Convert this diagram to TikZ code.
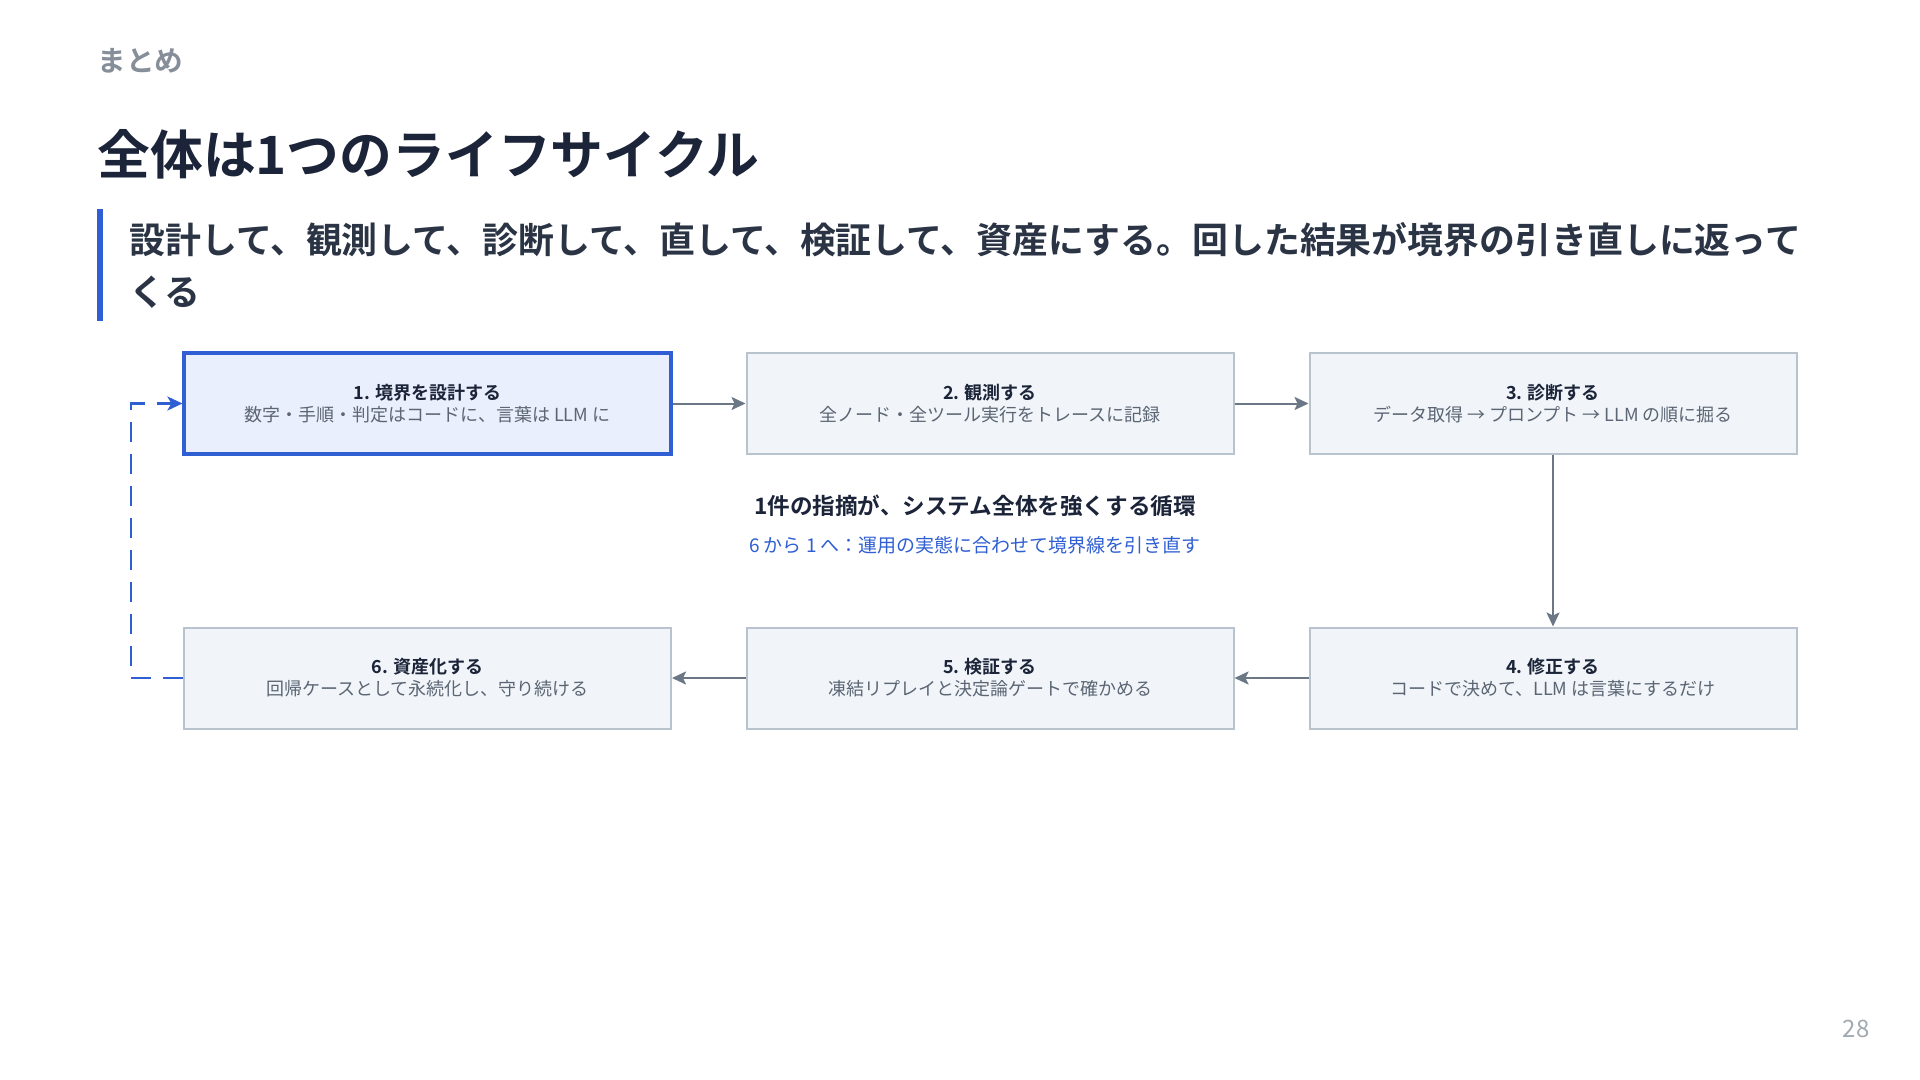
\documentclass[tikz,border=0pt]{standalone}
\usepackage{fontspec}
\setmainfont{Noto Sans CJK JP}[BoldFont={Noto Sans CJK JP Bold}]
\usepackage{xcolor}
\usetikzlibrary{arrows.meta}

\definecolor{inkNavy}{RGB}{27,36,56}
\definecolor{inkSlate}{RGB}{42,52,68}
\definecolor{kickerGray}{RGB}{134,142,153}
\definecolor{accentBlue}{RGB}{47,95,211}
\definecolor{boxFill}{RGB}{241,245,249}
\definecolor{boxFillHi}{RGB}{233,239,252}
\definecolor{boxLine}{RGB}{185,195,205}
\definecolor{flowGray}{RGB}{107,119,133}
\definecolor{noteGray}{RGB}{91,101,115}
\definecolor{pageGray}{RGB}{162,169,177}

\begin{document}
\begin{tikzpicture}[x=0.5pt,y=0.5pt,yscale=-1,xscale=1,
  stage/.style={draw=boxLine, line width=1pt, fill=boxFill, minimum width=243.5pt, minimum height=50.5pt, inner sep=0pt, align=center, text=noteGray, font=\fontsize{9}{11}\selectfont},
  stagehi/.style={stage, draw=accentBlue, line width=1.6pt, fill=boxFillHi},
  flow/.style={draw=flowGray, line width=1pt, -{Stealth[length=7pt,width=6.5pt,inset=1.5pt]}},
  loopback/.style={draw=accentBlue, line width=1.3pt, dash pattern=on 10pt off 6pt, -{Stealth[length=7.5pt,width=7pt,inset=2pt]}}]
%set diagram size 1920 x 1080
\fill [white] (0,0) rectangle (1920,1080);
\useasboundingbox (0,0) rectangle (1920,1080);

% Text Node
\node (kicker) [anchor=west, inner sep=0pt, text=kickerGray, font=\bfseries\fontsize{14.3}{16}\selectfont] at (97,61) {まとめ};
% Text Node
\node (title) [anchor=west, inner sep=0pt, text=inkNavy, font=\bfseries\fontsize{26.4}{30}\selectfont] at (97,154) {全体は1つのライフサイクル};
%Shape: Rectangle
\fill [accentBlue] (97,209) rectangle (103,321);
% Text Node
\node (lead) [anchor=west, inner sep=0pt, align=left, text=inkSlate, font=\bfseries\fontsize{17.95}{26}\selectfont] at (129,265) {設計して、観測して、診断して、直して、検証して、資産にする。回した結果が境界の引き直しに返って\\くる};

%Boxes
\node (design) [stagehi] at (427.5,403.5) {\textbf{\color{inkNavy}1. 境界を設計する}\\数字・手順・判定はコードに、言葉は LLM に};
\node (observe) [stage] at (990,403.5) {\textbf{\color{inkNavy}2. 観測する}\\全ノード・全ツール実行をトレースに記録};
\node (diagnose) [stage] at (1553,403.5) {\textbf{\color{inkNavy}3. 診断する}\\データ取得 → プロンプト → LLM の順に掘る};
\node (repair) [stage] at (1553,678) {\textbf{\color{inkNavy}4. 修正する}\\コードで決めて、LLM は言葉にするだけ};
\node (verify) [stage] at (990,678) {\textbf{\color{inkNavy}5. 検証する}\\凍結リプレイと決定論ゲートで確かめる};
\node (assetize) [stage] at (427.5,678) {\textbf{\color{inkNavy}6. 資産化する}\\回帰ケースとして永続化し、守り続ける};

%Straight Lines
\draw [flow] (design.east) -- (observe.west);
\draw [flow] (observe.east) -- (diagnose.west);
\draw [flow] (diagnose.south) -- (repair.north);
\draw [flow] (repair.west) -- (verify.east);
\draw [flow] (verify.west) -- (assetize.east);
%Dashed return
\draw [loopback] (assetize.west) -- ++(-52,0) |- (design.west);

% Text Node
\node (cycle) [inner sep=0pt, text=inkNavy, font=\bfseries\fontsize{11.3}{13}\selectfont] at (975,506) {1件の指摘が、システム全体を強くする循環};
% Text Node
\node (redraw) [inner sep=0pt, text=accentBlue, font=\fontsize{9.5}{11}\selectfont] at (975,545) {6 から 1 へ：運用の実態に合わせて境界線を引き直す};
% Text Node
\node (page) [inner sep=0pt, text=pageGray, font=\fontsize{12}{14}\selectfont] at (1856,1029) {28};

\end{tikzpicture}
\end{document}
